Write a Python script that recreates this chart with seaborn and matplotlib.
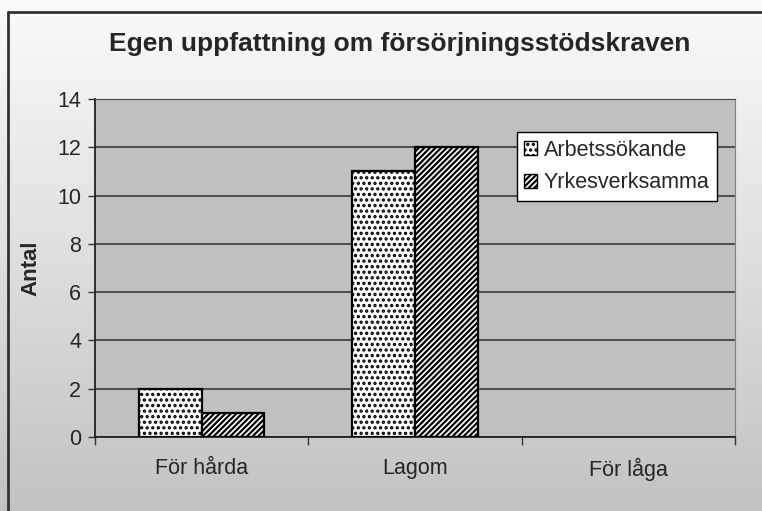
import numpy as np
import pandas as pd
import matplotlib.pyplot as plt
import seaborn as sns
from matplotlib.patches import Patch

# data
kategorier = ['För hårda', 'Lagom', 'För låga']
arbetssokande = [2, 11, 0]
yrkesverksamma = [1, 12, 0]
serier = ['Arbetssökande', 'Yrkesverksamma']

df = pd.DataFrame({
    'Kategori': kategorier * 2,
    'Antal': arbetssokande + yrkesverksamma,
    'Grupp': [serier[0]] * 3 + [serier[1]] * 3,
})

sns.set_style('white')
plt.rcParams['font.family'] = ['Liberation Sans', 'DejaVu Sans']
plt.rcParams['hatch.linewidth'] = 1.6

fig = plt.figure(figsize=(7.62, 5.11), dpi=100)

# bakgrund med gradient (vit upptill, grå nertill)
bg = fig.add_axes([0, 0, 1, 1], zorder=-10)
grad = np.linspace(0.98, 0.76, 256).reshape(-1, 1)
bg.imshow(grad, cmap='gray', vmin=0, vmax=1, aspect='auto', extent=[0, 1, 0, 1])
bg.plot([8 / 762, 8 / 762], [0, 1 - 12 / 511], color='#333333', lw=2, transform=bg.transAxes)
bg.plot([8 / 762, 1], [1 - 12 / 511, 1 - 12 / 511], color='#333333', lw=2, transform=bg.transAxes)
bg.set_xlim(0, 1)
bg.set_ylim(0, 1)
bg.axis('off')

ax = fig.add_axes([95 / 762, 74 / 511, 640 / 762, 338 / 511])
ax.set_facecolor('#c0c0c0')

sns.barplot(data=df, x='Kategori', y='Antal', hue='Grupp', order=kategorier,
            hue_order=serier, palette=['white', 'white'], width=0.586, gap=0,
            edgecolor='black', linewidth=1.6, saturation=1, legend=False, ax=ax,
            zorder=3)

hatches = {serier[0]: '...', serier[1]: '//////'}
for container, s in zip(ax.containers, serier):
    for bar in container:
        bar.set_hatch(hatches[s])
        bar.set_edgecolor('black')
        if bar.get_height() == 0:
            bar.set_linewidth(0)

ax.set_ylim(0, 14)
ax.set_xlim(-0.5, 2.5)
ax.set_yticks(range(0, 15, 2))
ax.yaxis.grid(True, color='#3a3a3a', lw=1.2, zorder=0)
ax.set_axisbelow(True)
ax.tick_params(axis='y', length=5, width=1, color='#333333', direction='out',
               left=True, labelsize=15.5, pad=5)
ax.tick_params(axis='x', length=0, labelsize=15.5, pad=15)
ax.set_xticks([-0.5, 0.5, 1.5, 2.5], minor=True)
ax.tick_params(axis='x', which='minor', length=6, width=1, color='#333333', bottom=True)

for side in ['left', 'bottom']:
    ax.spines[side].set_color('#222222')
    ax.spines[side].set_linewidth(1.3)
ax.spines['right'].set_color('#808080')
ax.spines['top'].set_color('#444444')

ax.set_xlabel('')
ax.set_ylabel('Antal', fontsize=16, fontweight='bold', labelpad=11)

fig.text(400 / 762, 1 - 44 / 511, 'Egen uppfattning om försörjningsstödskraven',
         ha='center', va='center', fontsize=19, fontweight='bold')

handles = [Patch(facecolor='white', edgecolor='black', hatch='...', label=serier[0]),
           Patch(facecolor='white', edgecolor='black', hatch='//////', label=serier[1])]
leg = ax.legend(handles=handles, loc='upper right', bbox_to_anchor=(0.972, 0.902),
                frameon=True, fancybox=False, framealpha=1, edgecolor='black',
                fontsize=15.5, handlelength=0.6, handleheight=0.6, handletextpad=0.3,
                borderpad=0.35, labelspacing=0.55, borderaxespad=0)
leg.get_frame().set_linewidth(1.0)

fig.savefig('out.png', dpi=100)
